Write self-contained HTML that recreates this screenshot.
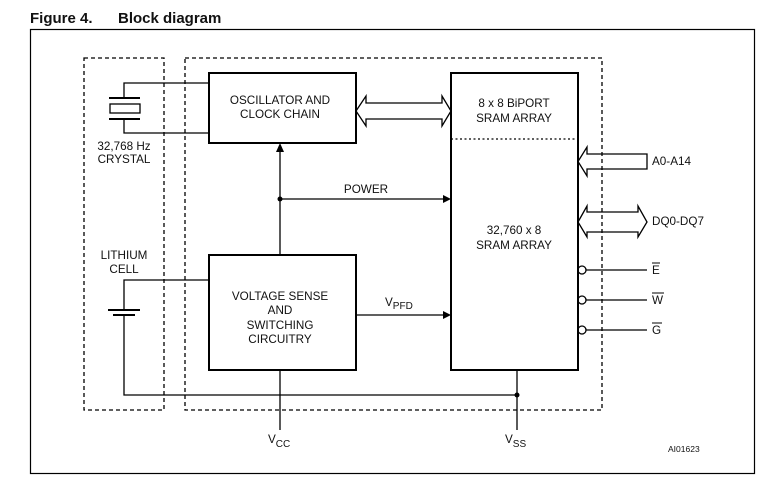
<!DOCTYPE html>
<html><head><style>
body{margin:0;background:#fff;}
svg text{font-family:"Liberation Sans",sans-serif;fill:#111;}
</style></head><body>
<svg width="783" height="488" viewBox="0 0 783 488" xmlns="http://www.w3.org/2000/svg">
<text x="30" y="23" font-size="15" font-weight="bold">Figure 4.</text>
<text x="118" y="23" font-size="15" font-weight="bold">Block diagram</text>
<rect x="30.5" y="29.5" width="724" height="444" fill="none" stroke="#000" stroke-width="1.2"/>
<g fill="none" stroke="#000" stroke-width="1.3" stroke-dasharray="4,3">
<rect x="84" y="58" width="80" height="352"/>
<rect x="185" y="58" width="417" height="352"/>
</g>
<line x1="451" y1="139" x2="578" y2="139" stroke="#000" stroke-width="1.3" stroke-dasharray="2,2.5"/>
<g fill="none" stroke="#000" stroke-width="1.3">
<rect x="209" y="73" width="147" height="70" stroke-width="2"/>
<rect x="209" y="255" width="147" height="115" stroke-width="2"/>
<rect x="451" y="73" width="127" height="297" stroke-width="2"/>
<polyline points="209,83 124,83 124,98"/>
<polyline points="209,133 124,133 124,119"/>
<line x1="109" y1="98" x2="140" y2="98" stroke-width="2"/>
<line x1="109" y1="119" x2="140" y2="119" stroke-width="2"/>
<rect x="110" y="104" width="30" height="9"/>
<polyline points="209,280 124,280 124,310"/>
<line x1="108" y1="310" x2="140" y2="310" stroke-width="2"/>
<line x1="113" y1="315" x2="135" y2="315" stroke-width="2"/>
<polyline points="124,315 124,395 517,395"/>
<line x1="517" y1="370" x2="517" y2="430"/>
<line x1="280" y1="370" x2="280" y2="430"/>
<line x1="280" y1="255" x2="280" y2="150"/>
<line x1="280" y1="199" x2="444" y2="199"/>
<line x1="356" y1="315" x2="444" y2="315"/>
<polygon points="356,111 366,96 366,103 442,103 442,96 451,111 442,126 442,119 366,119 366,126"/>
<polygon points="647,154 587,154 587,147 578,161.5 587,176 587,169 647,169"/>
<polygon points="578,222 587,206 587,212 638,212 638,206 647,222 638,237 638,232 587,232 587,237"/>
<circle cx="582" cy="270" r="4"/>
<circle cx="582" cy="300" r="4"/>
<circle cx="582" cy="330" r="4"/>
<line x1="586" y1="270" x2="647" y2="270"/>
<line x1="586" y1="300" x2="647" y2="300"/>
<line x1="586" y1="330" x2="647" y2="330"/>
<line x1="652" y1="263" x2="660" y2="263" stroke-width="1"/>
<line x1="652" y1="293" x2="664" y2="293" stroke-width="1"/>
<line x1="652" y1="323" x2="662" y2="323" stroke-width="1"/>
</g>
<g fill="#000">
<polygon points="280,143 276,152 284,152"/>
<polygon points="451,199 443,195 443,203"/>
<polygon points="451,315 443,311 443,319"/>
<circle cx="280" cy="199" r="2.5"/>
<circle cx="517" cy="395" r="2.5"/>
</g>
<g font-size="11.7" text-anchor="middle">
<text x="280" y="104">OSCILLATOR AND</text>
<text x="280" y="118">CLOCK CHAIN</text>
<text x="280" y="300">VOLTAGE SENSE</text>
<text x="280" y="314">AND</text>
<text x="280" y="329">SWITCHING</text>
<text x="280" y="343">CIRCUITRY</text>
<text x="514" y="107">8 x 8 BiPORT</text>
<text x="514" y="122">SRAM ARRAY</text>
<text x="514" y="234">32,760 x 8</text>
<text x="514" y="249">SRAM ARRAY</text>
<text x="124" y="150">32,768 Hz</text>
<text x="124" y="163">CRYSTAL</text>
<text x="124" y="259">LITHIUM</text>
<text x="124" y="273">CELL</text>
<text x="366" y="193">POWER</text>
</g>
<g font-size="11.7">
<text x="385" y="306">V<tspan font-size="10" dy="3">PFD</tspan></text>
<text x="268" y="443">V<tspan font-size="10" dy="4">CC</tspan></text>
<text x="505" y="443">V<tspan font-size="10" dy="4">SS</tspan></text>
<text x="652" y="165">A0-A14</text>
<text x="652" y="225">DQ0-DQ7</text>
<text x="652" y="274">E</text>
<text x="652" y="304">W</text>
<text x="652" y="334">G</text>
<text x="668" y="452" font-size="8.5">AI01623</text>
</g>
</svg>
</body></html>
